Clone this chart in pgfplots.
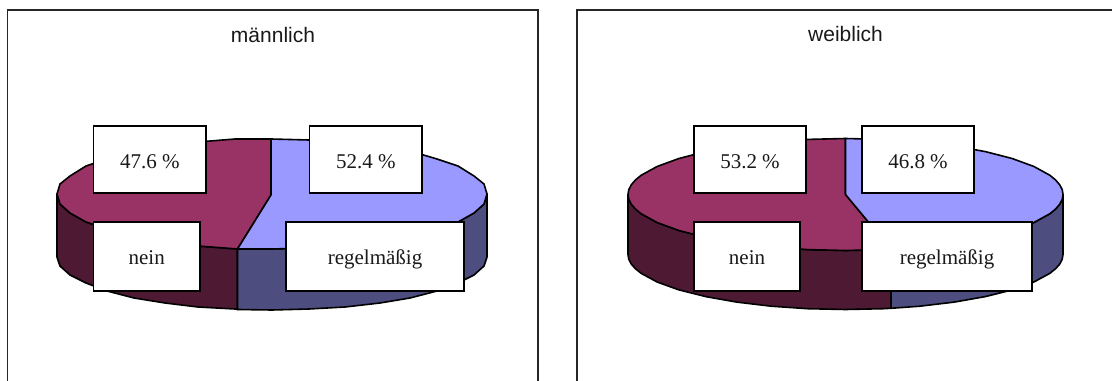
\documentclass[border=0pt]{standalone}
\usepackage{pgfplots}
\pgfplotsset{compat=1.18}
\usepackage{fontspec}
\setmainfont{Liberation Serif}
\newfontfamily\titlefont{Liberation Sans}

\definecolor{neinTop}{HTML}{993366}
\definecolor{neinSide}{HTML}{4D1933}
\definecolor{regTop}{HTML}{9999FF}
\definecolor{regSide}{HTML}{4D4D80}

% one axis unit is one pixel of the 1112 x 381 sheet
\pgfplotsset{
  slice/.style={draw=black,line width=1.2pt,line join=round,fill=#1,mark=none},
  frameline/.style={draw=black!85,line width=1.1pt,mark=none},
  labelbox/.style={draw=black,line width=1.4pt,fill=white,mark=none,line join=miter},
}
\tikzset{
  boxtext/.style={anchor=base,font=\fontsize{15.75pt}{18pt}\selectfont,text=black!90,inner sep=0pt},
  headtext/.style={anchor=base,font=\titlefont\fontsize{15.75pt}{18pt}\selectfont,text=black!90,inner sep=0pt},
}

\begin{document}
\begin{tikzpicture}
% the sheet keeps its full size, whatever the hidden axis reports
\useasboundingbox (0,0) rectangle (834pt,285.75pt);
\begin{axis}[
  at={(0,0)},anchor=south west,
  scale only axis,
  width=834pt,height=285.75pt,
  xmin=0,xmax=1112,ymin=0,ymax=381,
  y dir=reverse,
  hide axis,
  clip=true,
]
% --- panel frames, open at the lower sheet edge ---
\addplot[frameline] coordinates {(7.5,381) (7.5,10) (538,10) (538,381)};
\addplot[frameline] coordinates {(577,381) (577,10) (1112,10)};

% --- männlich: rim of the cake ---
\addplot[slice=neinSide] coordinates {
  (57,194) (60,204) (70,213) (86,222) (107,229) (134,237) (165,241) (198,246) (237.5,249)
  (237.5,309.5) (235,309) (198,307) (165,303) (134,298) (107,291) (86,283) (70,275) (60,266) (57,257)
} -- cycle;
\addplot[slice=regSide] coordinates {
  (237.5,249) (272,249) (309,248) (345,246) (380,241) (410,237) (437,229) (458,222) (474,213) (484,204) (487,194)
  (487,257) (484,266) (474,275) (458,283) (437,291) (410,298) (380,303) (345,307) (309,309) (272,310) (237.5,309.5)
} -- cycle;
% --- männlich: top face, nein 47.6, regelmäßig 52.4 ---
\addplot[slice=neinTop] coordinates {
  (271,195) (237.5,249) (198,246) (165,241) (134,237) (107,229) (86,222) (70,213) (60,204) (57,194)
  (60,184) (70,176) (86,166) (107,159) (134,151) (165,147) (198,142) (235,139) (271,139)
} -- cycle;
\addplot[slice=regTop] coordinates {
  (271,195) (271,139) (309,140) (345,142) (380,147) (410,151) (437,159) (458,166) (474,176) (484,184) (487,194)
  (484,204) (474,213) (458,222) (437,229) (410,237) (380,241) (345,246) (309,248) (272,249) (237.5,249)
} -- cycle;

% --- weiblich: rim of the cake ---
\addplot[slice=neinSide] coordinates {
  (628,194.5) (628.8,199.4) (631.3,204.2) (635.4,209) (641.1,213.7) (657.1,222.5) (678.9,230.5) (705.7,237.4) (736.7,243) (771.1,247.1) (807.7,249.6) (845.5,250.5) (883.3,249.6) (891,249.3)
  (891,308.3) (883.3,308.7) (845.5,309.5) (807.7,308.7) (771.1,306.2) (736.7,302.1) (705.7,296.6) (678.9,289.9) (657.1,282) (641.1,273.3) (635.4,268.7) (631.3,264.1) (628.8,259.3) (628,254.5)
} -- cycle;
\addplot[slice=regSide] coordinates {
  (891,249.3) (919.9,247.1) (954.3,243) (985.3,237.4) (1012.1,230.5) (1033.9,222.5) (1049.9,213.7) (1055.6,209) (1059.7,204.2) (1062.2,199.4) (1063,194.5)
  (1063,254.5) (1062.2,259.3) (1059.7,264.1) (1055.6,268.7) (1049.9,273.3) (1033.9,282) (1012.1,289.9) (985.3,296.6) (954.3,302.1) (919.9,306.2) (891,308.3)
} -- cycle;
% --- weiblich: top face, nein 53.2, regelmäßig 46.8 ---
\addplot[slice=neinTop] coordinates {
  (845.5,194.5) (891,249.3) (883.3,249.6) (845.5,250.5) (807.7,249.6) (771.1,247.1) (736.7,243) (705.7,237.4) (678.9,230.5) (657.1,222.5) (641.1,213.7) (635.4,209) (631.3,204.2) (628.8,199.4) (628,194.5)
  (628.8,189.6) (631.3,184.8) (635.4,180) (641.1,175.3) (657.1,166.5) (678.9,158.5) (705.7,151.6) (736.7,146) (771.1,141.9) (807.7,139.4) (845.5,138.5)
} -- cycle;
\addplot[slice=regTop] coordinates {
  (845.5,194.5) (845.5,138.5) (883.3,139.4) (919.9,141.9) (954.3,146) (985.3,151.6) (1012.1,158.5) (1033.9,166.5) (1049.9,175.3) (1055.6,180) (1059.7,184.8) (1062.2,189.6) (1063,194.5)
  (1062.2,199.4) (1059.7,204.2) (1055.6,209) (1049.9,213.7) (1033.9,222.5) (1012.1,230.5) (985.3,237.4) (954.3,243) (919.9,247.1) (891,249.3)
} -- cycle;

% --- data and category label boxes ---
\addplot[labelbox] coordinates {(93.5,126) (206,126) (206,193) (93.5,193)} -- cycle;
\addplot[labelbox] coordinates {(93.5,222) (200,222) (200,291) (93.5,291)} -- cycle;
\addplot[labelbox] coordinates {(309.5,126) (422,126) (422,193) (309.5,193)} -- cycle;
\addplot[labelbox] coordinates {(286,222) (464,222) (464,291) (286,291)} -- cycle;
\addplot[labelbox] coordinates {(694,126) (806,126) (806,193) (694,193)} -- cycle;
\addplot[labelbox] coordinates {(694,222) (800,222) (800,291) (694,291)} -- cycle;
\addplot[labelbox] coordinates {(862,126) (974,126) (974,193) (862,193)} -- cycle;
\addplot[labelbox] coordinates {(862,222) (1032,222) (1032,291) (862,291)} -- cycle;

\node[boxtext] at (axis cs:149.8,168) {47.6 \%};
\node[boxtext] at (axis cs:146.7,264) {nein};
\node[boxtext] at (axis cs:365.8,168) {52.4 \%};
\node[boxtext] at (axis cs:375,264) {regelmäßig};
\node[boxtext] at (axis cs:750,168) {53.2 \%};
\node[boxtext] at (axis cs:747,264) {nein};
\node[boxtext] at (axis cs:918,168) {46.8 \%};
\node[boxtext] at (axis cs:947,264) {regelmäßig};

\node[headtext] at (axis cs:273,43) {männlich};
\node[headtext] at (axis cs:845.5,42) {weiblich};
\end{axis}
\end{tikzpicture}
\end{document}
